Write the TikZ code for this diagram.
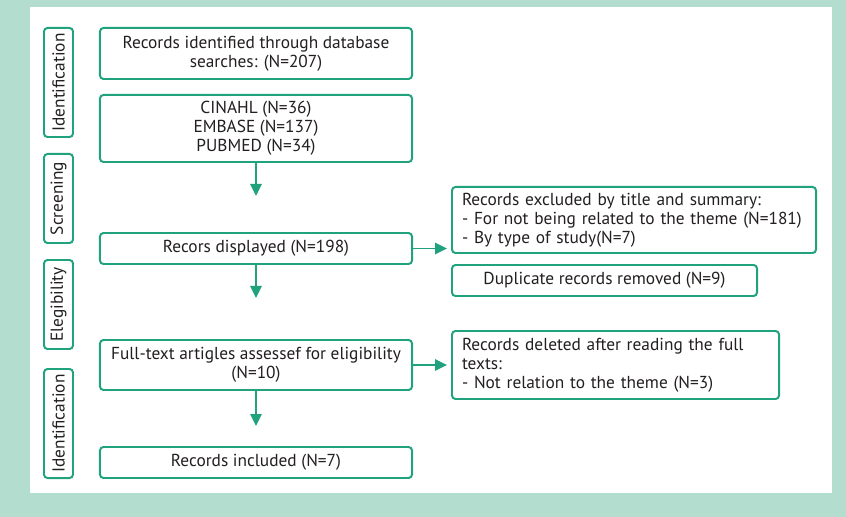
\documentclass[tikz,border=0pt]{standalone}
\usepackage{fontspec}
\setmainfont{PT Sans}
\usetikzlibrary{arrows.meta,positioning}
\definecolor{prismagreen}{RGB}{32,162,126}
\definecolor{prismabg}{RGB}{178,221,207}
\definecolor{prismatext}{RGB}{35,31,32}

\begin{document}
\begin{tikzpicture}[x=0.03cm, y=-0.03cm,
    box/.style={draw=prismagreen, line width=1.7pt, rounded corners=3pt, fill=white, text=prismatext, inner sep=0pt, align=center, font=\fontsize{14.8}{16.4}\selectfont},
    side/.style={box, rotate=90, minimum height=0.87cm},
    note/.style={box, align=left, inner xsep=0.3cm},
    arr/.style={-{Triangle[length=3.6mm, width=3.4mm]}, draw=prismagreen, line width=1.7pt}
]
% frame
\fill[prismabg] (0,0) rectangle (846,517);
\fill[white] (30,7) rectangle (832,493);

% phase labels
\node[side, minimum width=3.27cm] (ident) at (58.5,82.5) {Identification};
\node[side, minimum width=2.67cm] (screen) at (58.5,198.5) {Screening};
\node[side, minimum width=2.67cm] (elig) at (58.5,304.5) {Elegibility};
\node[side, minimum width=3.27cm] (incl) at (58.5,423.5) {Identification};

% main column
\node[box, minimum width=9.36cm, minimum height=1.53cm] (search) at (256,53.5) {Records identified through database\\searches: (N=207)};
\node[box, minimum width=9.36cm, minimum height=2.01cm] (dbs) at (256,128.5) {CINAHL (N=36)\\EMBASE (N=137)\\PUBMED (N=34)};
\node[box, minimum width=9.36cm, minimum height=0.93cm] (shown) at (256,248.5) {Recors displayed (N=198)};
\node[box, minimum width=9.36cm, minimum height=1.5cm] (full) at (256,365) {Full-text artigles assessef for eligibility\\(N=10)};
\node[box, minimum width=9.36cm, minimum height=0.93cm] (final) at (256,462.5) {Records included (N=7)};

% side boxes
\node[note, text width=10.32cm, minimum height=1.98cm] (excl) at (634,220) {Records excluded by title and summary:\\- For not being related to the theme (N=181)\\- By type of study(N=7)};
\node[box, minimum width=9.15cm, minimum height=0.93cm] (dup) at (604.5,280.5) {Duplicate records removed (N=9)};
\node[note, text width=9.21cm, minimum height=2.04cm] (del) at (615.5,365) {Records deleted after reading the full\\texts:\\- Not relation to the theme (N=3)};

% arrows
\draw[arr, shorten >=1.08cm] (dbs) -- (shown);
\draw[arr, shorten >=1.23cm] (shown) -- (full);
\draw[arr, shorten >=0.6cm] (full) -- (final);
\draw[arr, shorten >=0.12cm] (shown.east) -- (shown.east -| excl.west);
\draw[arr, shorten >=0.12cm] (full) -- (del);
\end{tikzpicture}
\end{document}
